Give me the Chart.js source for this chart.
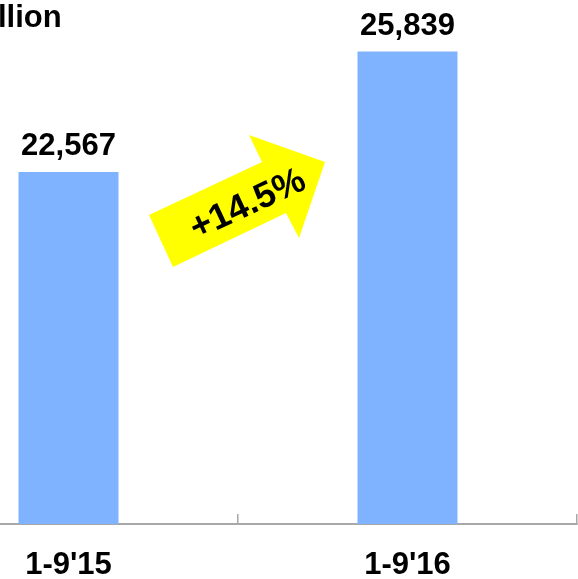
<!DOCTYPE html>
<html>
<head>
<meta charset="utf-8">
<script src="https://cdn.jsdelivr.net/npm/chart.js@4/dist/chart.umd.min.js"></script>
<style>
  html, body { margin: 0; padding: 0; background: #fff; overflow: hidden; }
  #wrap { position: relative; width: 578px; height: 579px; overflow: hidden; }
  #myChart { position: absolute; left: -101px; top: 0; }
</style>
</head>
<body>
<div id="wrap"><canvas id="myChart" width="680" height="579"></canvas></div>
<script>
// data
var labels = ["1-9'15", "1-9'16"];
var values = [22567, 25839];
var unitText = 'llion';
var growthText = '+14.5%';

var FONT = '"Liberation Sans", Arial, sans-serif';
var SHIFT = 101; // canvas is moved left so the first category is cut off like the picture

// value labels above the bars, the unit text and the yellow arrow
var decorations = {
  id: 'decorations',
  afterDatasetsDraw: function (chart) {
    var c = chart.ctx;
    c.save();
    c.fillStyle = '#000';
    c.textAlign = 'center';
    c.textBaseline = 'alphabetic';
    c.font = 'bold 31px ' + FONT;
    chart.getDatasetMeta(0).data.forEach(function (bar, i) {
      c.fillText(values[i].toLocaleString('en-US'), bar.x, bar.y - 17);
    });

    // unit text, cut at left edge
    c.textAlign = 'left';
    c.font = 'bold 31px ' + FONT;
    c.fillText(unitText, SHIFT - 2, 27);

    // arrow
    var pts = [[173, 267], [149, 215], [262, 162], [249, 135], [325, 162], [299, 238], [286, 213]];
    c.beginPath();
    pts.forEach(function (p, k) {
      if (k === 0) c.moveTo(p[0] + SHIFT, p[1]);
      else c.lineTo(p[0] + SHIFT, p[1]);
    });
    c.closePath();
    c.fillStyle = '#ffff00';
    c.fill();

    c.translate(248 + SHIFT, 205);
    c.rotate(-25 * Math.PI / 180);
    c.fillStyle = '#000';
    c.textAlign = 'center';
    c.textBaseline = 'middle';
    c.font = 'bold 36px ' + FONT;
    c.fillText(growthText, 0, 0);
    c.restore();
  }
};

var ctx = document.getElementById('myChart');
var myChart = new Chart(ctx, {
  type: 'bar',
  data: {
    labels: labels,
    datasets: [{
      data: values,
      backgroundColor: '#80b3ff',
      categoryPercentage: 1,
      barPercentage: 0.295
    }]
  },
  options: {
    responsive: false,
    animation: false,
    devicePixelRatio: 1,
    layout: { padding: { left: 0, right: 2, top: 0, bottom: 0 } },
    plugins: {
      legend: { display: false },
      tooltip: { enabled: false }
    },
    scales: {
      x: {
        offset: true,
        grid: {
          offset: true,
          drawOnChartArea: false,
          tickLength: -10,
          color: '#a8a8a8',
          lineWidth: 1.5
        },
        border: { color: '#a8a8a8', width: 2 },
        ticks: {
          color: '#000',
          padding: 33,
          font: { family: FONT, size: 31, weight: 'bold' }
        },
        afterFit: function (scale) { scale.height = 55; }
      },
      y: {
        display: false,
        min: 13000,
        max: 27242
      }
    }
  },
  plugins: [decorations]
});
</script>
</body>
</html>
